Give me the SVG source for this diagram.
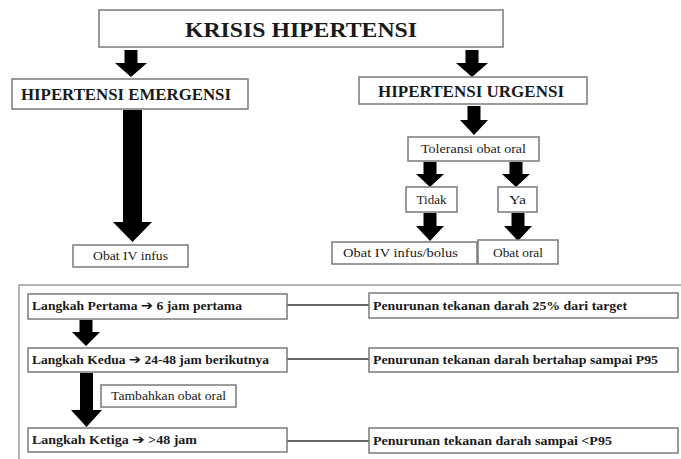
<svg xmlns="http://www.w3.org/2000/svg" width="681" height="459" viewBox="0 0 681 459">
<style>
.box{fill:#fff;stroke:#7a7a7a;stroke-width:1.5}
.outer{fill:none;stroke:#9a9a9a;stroke-width:1.5}
.t{font-family:"Liberation Serif","Times New Roman",serif;fill:#1a1a1a;text-anchor:middle}
.b{font-weight:bold}
.tl{font-family:"Liberation Serif","Times New Roman",serif;fill:#1a1a1a;font-weight:bold}
.ar{font-family:"DejaVu Sans",sans-serif;font-size:13px}
.arr{fill:#000}
.ln{stroke:#333;stroke-width:1.5;fill:none}
</style>
<rect width="681" height="459" fill="#fff"/>
<rect class="outer" x="19" y="285" width="700" height="200"/>

<g id="connectors">
  <polygon class="arr" points="124.5,50 137.5,50 137.5,63 147,63 131,77 115,63 124.5,63"/>
  <polygon class="arr" points="465.5,50 478.5,50 478.5,63 488,63 472,77 456,63 465.5,63"/>
  <polygon class="arr" points="123,110 142,110 142,222 152,222 132.5,242 113,222 123,222"/>
  <polygon class="arr" points="467.5,106 480.5,106 480.5,120 488,120 474,135 460,120 467.5,120"/>
  <polygon class="arr" points="423.5,162 436.5,162 436.5,174 444,174 430,187 416,174 423.5,174"/>
  <polygon class="arr" points="509.5,162 522.5,162 522.5,174 530,174 516,187 502,174 509.5,174"/>
  <polygon class="arr" points="423.5,213 436.5,213 436.5,226 444,226 430,241 416,226 423.5,226"/>
  <polygon class="arr" points="511.5,213 524.5,213 524.5,226 532,226 518,241 504,226 511.5,226"/>
  <polygon class="arr" points="79.5,320 92.5,320 92.5,332 100,332 86,346 72,332 79.5,332"/>
  <polygon class="arr" points="80,373 93,373 93,410 102,410 86.5,427 71,410 80,410"/>
  <line class="ln" x1="287" y1="305" x2="369" y2="305"/>
  <line class="ln" x1="287" y1="359" x2="369" y2="359"/>
  <line class="ln" x1="287" y1="441" x2="369" y2="441"/>
</g>

<g id="krisis">
  <rect class="box" x="99" y="10" width="404" height="37"/>
  <text class="t b" x="301" y="37" font-size="22" textLength="232" lengthAdjust="spacingAndGlyphs">KRISIS HIPERTENSI</text>
</g>
<g id="emergensi">
  <rect class="box" x="12" y="79" width="236" height="30"/>
  <text class="t b" x="126" y="100" font-size="16" textLength="210" lengthAdjust="spacingAndGlyphs">HIPERTENSI EMERGENSI</text>
</g>
<g id="urgensi">
  <rect class="box" x="359" y="77" width="228" height="27"/>
  <text class="t b" x="471" y="97" font-size="16" textLength="186" lengthAdjust="spacingAndGlyphs">HIPERTENSI URGENSI</text>
</g>
<g id="obat-iv-infus">
  <rect class="box" x="73" y="245" width="115" height="22"/>
  <text class="t" x="130.5" y="260" font-size="12" textLength="75" lengthAdjust="spacingAndGlyphs">Obat IV infus</text>
</g>
<g id="toleransi">
  <rect class="box" x="408" y="137" width="131" height="24"/>
  <text class="t" x="473.5" y="153" font-size="12" textLength="105" lengthAdjust="spacingAndGlyphs">Toleransi obat oral</text>
</g>
<g id="tidak">
  <rect class="box" x="406" y="187" width="51" height="25"/>
  <text class="t" x="431.5" y="204" font-size="12" textLength="30" lengthAdjust="spacingAndGlyphs">Tidak</text>
</g>
<g id="ya">
  <rect class="box" x="498" y="187" width="39" height="25"/>
  <text class="t" x="517.5" y="204" font-size="12" textLength="17" lengthAdjust="spacingAndGlyphs">Ya</text>
</g>
<g id="obat-iv-bolus">
  <rect class="box" x="332" y="242" width="145" height="22"/>
  <text class="t" x="400.5" y="257" font-size="12" textLength="115" lengthAdjust="spacingAndGlyphs">Obat IV infus/bolus</text>
</g>
<g id="obat-oral">
  <rect class="box" x="478" y="240" width="80" height="24"/>
  <text class="t" x="518" y="257" font-size="12" textLength="50" lengthAdjust="spacingAndGlyphs">Obat oral</text>
</g>

<g id="langkah-1">
  <rect class="box" x="28" y="294" width="259" height="25"/>
  <text class="tl" x="32" y="310" font-size="12" textLength="210" lengthAdjust="spacingAndGlyphs">Langkah Pertama <tspan class="ar">➔</tspan> 6 jam pertama</text>
</g>
<g id="target-1">
  <rect class="box" x="369" y="293" width="309" height="25"/>
  <text class="tl" x="373" y="310" font-size="12" textLength="254" lengthAdjust="spacingAndGlyphs">Penurunan tekanan darah 25% dari target</text>
</g>
<g id="langkah-2">
  <rect class="box" x="28" y="348" width="259" height="24"/>
  <text class="tl" x="32" y="364" font-size="12" textLength="237" lengthAdjust="spacingAndGlyphs">Langkah Kedua <tspan class="ar">➔</tspan> 24-48 jam berikutnya</text>
</g>
<g id="target-2">
  <rect class="box" x="369" y="348" width="309" height="24"/>
  <text class="tl" x="373" y="364" font-size="12" textLength="285" lengthAdjust="spacingAndGlyphs">Penurunan tekanan darah bertahap sampai P95</text>
</g>
<g id="tambahkan">
  <rect class="box" x="101" y="385" width="135" height="22"/>
  <text class="t" x="168.5" y="400" font-size="12" textLength="115" lengthAdjust="spacingAndGlyphs">Tambahkan obat oral</text>
</g>
<g id="langkah-3">
  <rect class="box" x="28" y="428" width="259" height="24"/>
  <text class="tl" x="32" y="444" font-size="12" textLength="165" lengthAdjust="spacingAndGlyphs">Langkah Ketiga <tspan class="ar">➔</tspan> &gt;48 jam</text>
</g>
<g id="target-3">
  <rect class="box" x="369" y="428" width="309" height="25"/>
  <text class="tl" x="373" y="445" font-size="12" textLength="239" lengthAdjust="spacingAndGlyphs">Penurunan tekanan darah sampai &lt;P95</text>
</g>
</svg>
